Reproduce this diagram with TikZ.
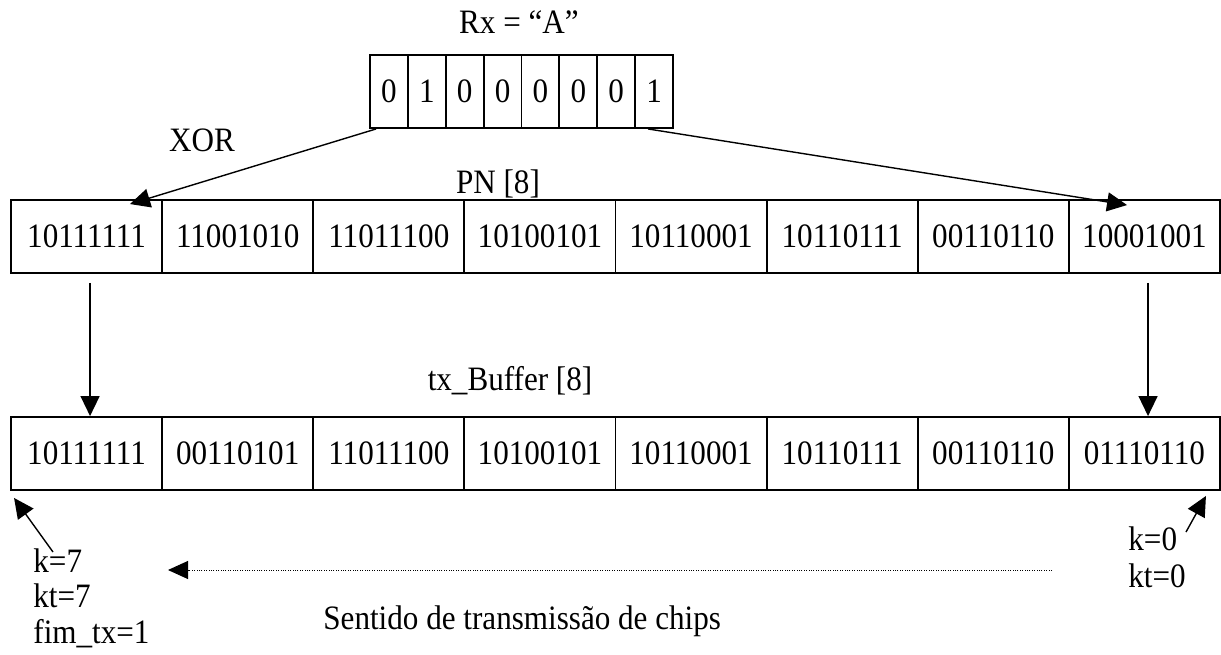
\documentclass[tikz,border=0pt]{standalone}
\usepackage{fontspec}
\setmainfont{Liberation Serif}[FakeStretch=0.91]
\usetikzlibrary{arrows.meta}
\begin{document}
\begin{tikzpicture}[x=0.5pt,y=-0.5pt,
  font=\fontsize{17.1}{20}\selectfont,
  cell/.style={draw, line width=0.95pt, inner sep=0pt, minimum height=36.5pt},
  bitcell/.style={cell, minimum width=18.94pt},
  wordcell/.style={cell, minimum width=75.56pt},
  arr/.style={line width=0.7pt, -{Triangle[length=10pt,width=9.5pt]}},
  dotarr/.style={line width=0.5pt, dash pattern=on 0.5pt off 0.7pt,
    -{Triangle[length=10pt,width=9pt]}},
  lbl/.style={inner sep=0pt}]
\useasboundingbox (0,0) rectangle (1221,654);

% received character, one bit per cell
\foreach \b [count=\i] in {0,1,0,0,0,0,0,1}
  \node[bitcell] (rx\i) at ({370+37.875*(\i-0.5)},91.5) {\b};

% pseudo-noise sequence
\foreach \w [count=\i] in {10111111,11001010,11011100,10100101,10110001,10110111,00110110,10001001}
  \node[wordcell] (pn\i) at ({11+151.125*(\i-0.5)},236.5) {\w};

% transmit buffer
\foreach \w [count=\i] in {10111111,00110101,11011100,10100101,10110001,10110111,00110110,01110110}
  \node[wordcell] (tx\i) at ({11+151.125*(\i-0.5)},453.5) {\w};

% labels
\node[lbl, anchor=base] (rxlbl) at (519,33) {Rx = “A”};
\node[lbl, anchor=base] (xorlbl) at (202,151) {XOR};
\node[lbl, anchor=base] (pnlbl) at (498,193) {PN [8]};
\node[lbl, anchor=base] (txlbl) at (510,390) {tx\_Buffer [8]};
\node[lbl, anchor=base west] (k7) at (33,572) {k=7};
\node[lbl, anchor=base west] (kt7) at (33,607) {kt=7};
\node[lbl, anchor=base west] (fim) at (33,643) {fim\_tx=1};
\node[lbl, anchor=base west] (k0) at (1128,550) {k=0};
\node[lbl, anchor=base west] (kt0) at (1128,587) {kt=0};
\node[lbl, anchor=base west] (sentido) at (323,629) {Sentido de transmissão de chips};

% XOR of the character with the first and last PN words
\draw[arr] ([xshift=3.5pt]rx1.south west) -- ([xshift=21.7pt,yshift=-2.5pt]pn1.north);
\draw[arr] ([xshift=-3pt]rx8.south) -- ([xshift=-8.7pt,yshift=-3pt]pn8.north);

% results written into the buffer
\draw[arr] ([xshift=1.75pt,yshift=-4.5pt]pn1.south) -- ([xshift=1.75pt]tx1.north);
\draw[arr] ([xshift=1.8pt,yshift=-4.5pt]pn8.south) -- ([xshift=1.8pt]tx8.north);

% index pointers
\coordinate (k7tail) at (53,552);
\coordinate (k0tail) at (1186,532);
\draw[arr] (k7tail) -- ([shift={(2pt,-3.5pt)}]tx1.south west);
\draw[arr] (k0tail) -- ([shift={(-7.5pt,-2.5pt)}]tx8.south east);

% direction of chip transmission
\coordinate (dirR) at (1052,570);
\coordinate (dirL) at (168,570);
\draw[dotarr] (dirR) -- (dirL);
\end{tikzpicture}
\end{document}
